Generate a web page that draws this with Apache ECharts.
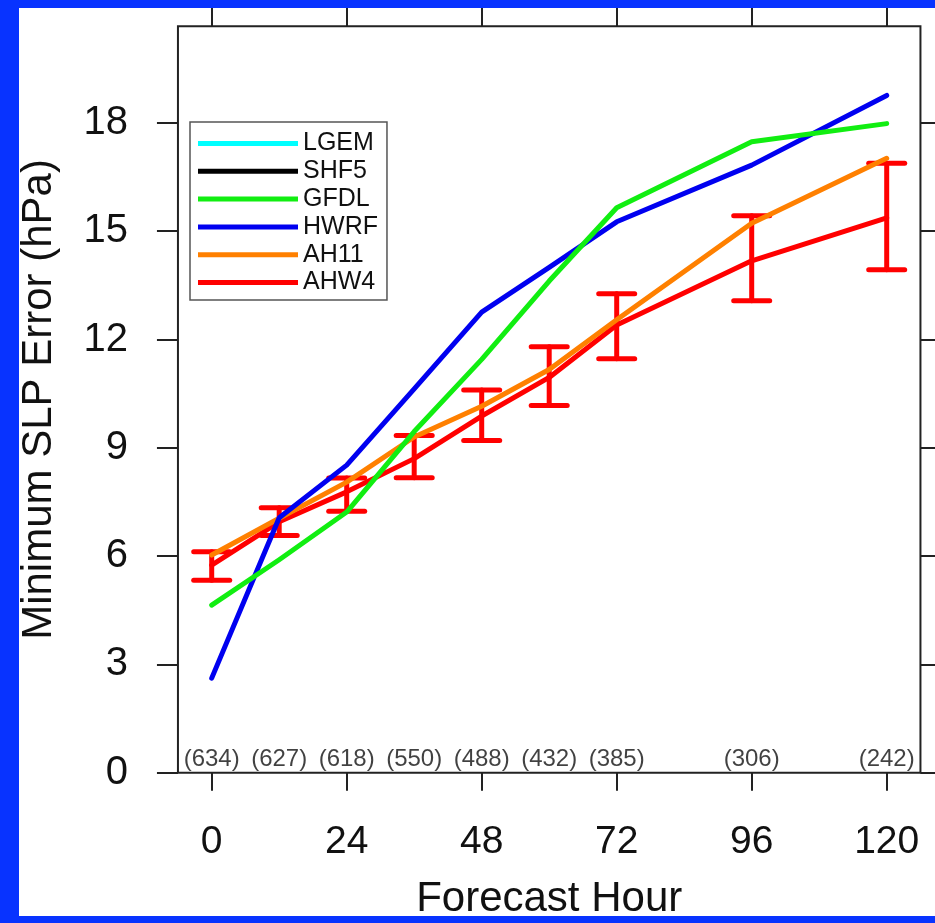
<!DOCTYPE html>
<html>
<head>
<meta charset="utf-8">
<script src="https://cdn.jsdelivr.net/npm/echarts@6/dist/echarts.min.js"></script>
<style>
  html, body { margin: 0; padding: 0; width: 935px; height: 923px; background: #0833FF; overflow: hidden; }
  #wrap { position: absolute; left: 19px; top: 8px; width: 916px; height: 908px; overflow: hidden; background: #ffffff; }
  #chart { position: absolute; left: -19px; top: -8px; width: 935px; height: 923px; }
</style>
</head>
<body>
<div id="wrap"><div id="chart"></div></div>
<script>
// ---- data ----
const hours = [0, 12, 24, 36, 48, 60, 72, 96, 120];
const LGEM = [];
const SHF5 = [];
const GFDL = [4.64, 5.9, 7.22, 9.45, 11.45, 13.62, 15.65, 17.48, 17.98];
const HWRF = [2.62, 7.06, 8.52, 10.63, 12.76, 14.0, 15.26, 16.83, 18.76];
const AH11 = [6.03, 7.05, 8.05, 9.3, 10.15, 11.17, 12.55, 15.22, 17.02];
const AHW4 = [5.75, 6.95, 7.78, 8.7, 9.88, 10.95, 12.4, 14.18, 15.37];
const AHW4_low = [5.33, 6.57, 7.24, 8.17, 9.2, 10.17, 11.47, 13.07, 13.93];
const AHW4_high = [6.12, 7.34, 8.16, 9.34, 10.6, 11.8, 13.27, 15.43, 16.88];
const counts = ['(634)', '(627)', '(618)', '(550)', '(488)', '(432)', '(385)', '(306)', '(242)'];
const legendNames = ['LGEM', 'SHF5', 'GFDL', 'HWRF', 'AH11', 'AHW4'];
// axis ticks (labels): x every 24 h from 0 to 120, y every 3 hPa from 0 to 18
const xTickMin = 0, xTickMax = 120, xTickStep = 24;
const yTickMin = 0, yTickMax = 18, yTickStep = 3;
// plotting frame extent (data units)
const frameX = [-6, 126];
const frameY = [0, 20.68];

const colors = { LGEM: '#00FFFF', SHF5: '#000000', GFDL: '#11EE11', HWRF: '#0000F0', AH11: '#FF8000', AHW4: '#FF0000' };
const FONT = 'Liberation Sans, Arial, Helvetica, sans-serif';
const INK = '#111';
const TICK = { color: '#222', width: 2 };

function pairs(vals) { return vals.map((v, i) => [hours[i], v]); }
function lineSeries(name, vals, z) {
  return {
    name: name, type: 'line', data: pairs(vals), xAxisIndex: 0, yAxisIndex: 0,
    showSymbol: false, symbol: 'none', clip: false, z: z || 2,
    lineStyle: { color: colors[name], width: 5, cap: 'round', join: 'round' },
    itemStyle: { color: colors[name] },
    emphasis: { disabled: true }, silent: true, animation: false
  };
}

const errData = hours.map((h, i) => [h, AHW4_low[i], AHW4_high[i]]);

// grid: inner area spans the tick range; frame is wider (axes offset outward)
const gridLeft = 211.7, gridRight = 48.3, gridTop = 122.9, gridBottom = 150.3;
const chartW = 935, chartH = 923;
const pxPerX = (chartW - gridLeft - gridRight) / (xTickMax - xTickMin);
const pxPerY = (chartH - gridTop - gridBottom) / (yTickMax - yTickMin);
const offLeft = (xTickMin - frameX[0]) * pxPerX;
const offRight = (frameX[1] - xTickMax) * pxPerX;
const offTop = (frameY[1] - yTickMax) * pxPerY;
// y title centred on the frame rather than on the tick range
const yTitleShift = offTop;

const chart = echarts.init(document.getElementById('chart'), null, { renderer: 'canvas' });
chart.setOption({
  backgroundColor: 'transparent',
  animation: false,
  grid: { left: gridLeft, top: gridTop, right: gridRight, bottom: gridBottom, show: false, containLabel: false, outerBoundsMode: 'none' },
  legend: {
    data: legendNames,
    orient: 'vertical', left: 190, top: 122,
    icon: 'rect', itemWidth: 100, itemHeight: 5, itemGap: 2.8,
    padding: [9, 9, 5, 8],
    borderColor: '#555', borderWidth: 1.5, backgroundColor: '#fff',
    textStyle: { fontFamily: FONT, fontSize: 25, color: INK, lineHeight: 25 },
    selectedMode: false, z: 8
  },
  xAxis: [
    {
      type: 'value', min: xTickMin, max: xTickMax, interval: xTickStep, position: 'bottom',
      name: 'Forecast Hour', nameLocation: 'middle', nameGap: 106, nameMoveOverlap: false,
      nameTextStyle: { fontFamily: FONT, fontSize: 42, color: INK },
      axisLine: { show: false, onZero: false },
      axisTick: { show: true, length: 18, lineStyle: TICK },
      axisLabel: { show: true, margin: 50, fontFamily: FONT, fontSize: 39, color: INK },
      splitLine: { show: false }
    },
    {
      type: 'value', min: xTickMin, max: xTickMax, interval: xTickStep, position: 'top', offset: offTop,
      axisLine: { show: false, onZero: false },
      axisTick: { show: true, length: 20, lineStyle: TICK },
      axisLabel: { show: false },
      splitLine: { show: false }
    }
  ],
  yAxis: [
    {
      type: 'value', min: yTickMin, max: yTickMax, interval: yTickStep, position: 'left', offset: offLeft,
      name: 'Minimum SLP Error (hPa)', nameLocation: 'middle', nameRotate: 90, nameGap: 118, nameMoveOverlap: false,
      nameTextStyle: { fontFamily: FONT, fontSize: 42, color: INK, padding: [0, 0, 0, yTitleShift] },
      axisLine: { show: false, onZero: false },
      axisTick: { show: true, length: 21, lineStyle: TICK },
      axisLabel: { show: true, margin: 50, fontFamily: FONT, fontSize: 40, color: INK, padding: [7, 0, 0, 0] },
      splitLine: { show: false }
    },
    {
      type: 'value', min: yTickMin, max: yTickMax, interval: yTickStep, position: 'right', offset: offRight,
      axisLine: { show: false, onZero: false },
      axisTick: { show: true, length: 21, lineStyle: TICK },
      axisLabel: { show: false },
      splitLine: { show: false }
    }
  ],
  series: [
    lineSeries('LGEM', LGEM),
    lineSeries('SHF5', SHF5),
    {
      name: 'AHW4 range', type: 'custom', xAxisIndex: 0, yAxisIndex: 0, data: errData, silent: true, z: 2, clip: false,
      renderItem: function (params, api) {
        const x = api.value(0);
        const lo = api.coord([x, api.value(1)]);
        const hi = api.coord([x, api.value(2)]);
        const half = 18;
        const style = { stroke: colors.AHW4, lineWidth: 5, lineCap: 'round' };
        return {
          type: 'group',
          children: [
            { type: 'line', shape: { x1: lo[0], y1: lo[1], x2: hi[0], y2: hi[1] }, style: style },
            { type: 'line', shape: { x1: lo[0] - half, y1: lo[1], x2: lo[0] + half, y2: lo[1] }, style: style },
            { type: 'line', shape: { x1: hi[0] - half, y1: hi[1], x2: hi[0] + half, y2: hi[1] }, style: style }
          ]
        };
      }
    },
    lineSeries('AHW4', AHW4, 2),
    lineSeries('AH11', AH11, 3),
    lineSeries('HWRF', HWRF, 4),
    lineSeries('GFDL', GFDL, 5),
    {
      name: 'counts', type: 'scatter', xAxisIndex: 0, yAxisIndex: 0, silent: true, z: 6,
      symbolSize: 0, clip: false,
      data: hours.map((h, i) => ({ value: [h, 0], label: { formatter: counts[i] } })),
      label: { show: true, position: 'top', distance: 1, fontFamily: FONT, fontSize: 24, color: INK }
    }
  ]
});

// frame drawn through the axis scales
const p0 = chart.convertToPixel({ gridIndex: 0 }, [frameX[0], frameY[1]]);
const p1 = chart.convertToPixel({ gridIndex: 0 }, [frameX[1], frameY[0]]);
chart.setOption({
  graphic: [{
    type: 'rect', silent: true, z: 7,
    shape: { x: p0[0], y: p0[1], width: p1[0] - p0[0], height: p1[1] - p0[1] },
    style: { fill: 'none', stroke: '#222', lineWidth: 2 }
  }]
});
</script>
</body>
</html>
